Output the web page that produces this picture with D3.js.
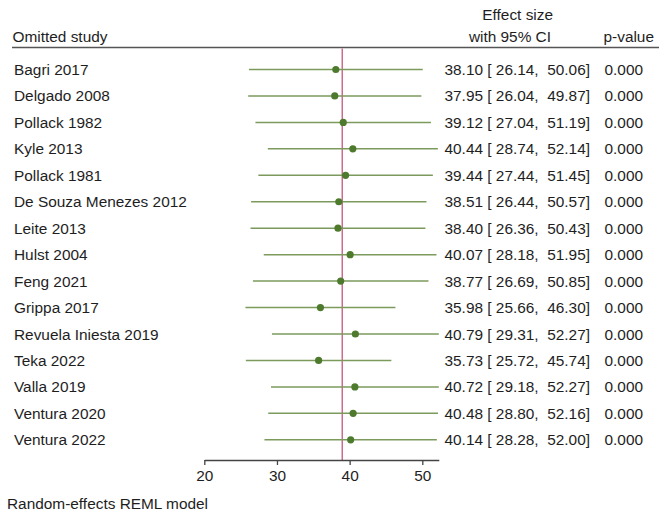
<!DOCTYPE html>
<html>
<head>
<meta charset="utf-8">
<script src="https://cdn.jsdelivr.net/npm/d3@7"></script>
<style>
  html, body { margin: 0; padding: 0; background: #fff; }
  svg { display: block; }
  text { font-family: "Liberation Sans", Arial, sans-serif; fill: #1e1e1e; }
</style>
</head>
<body>
<svg id="chart" width="669" height="516"></svg>
<script>
const studies = ["Bagri 2017", "Delgado 2008", "Pollack 1982", "Kyle 2013", "Pollack 1981",
  "De Souza Menezes 2012", "Leite 2013", "Hulst 2004", "Feng 2021", "Grippa 2017",
  "Revuela Iniesta 2019", "Teka 2022", "Valla 2019", "Ventura 2020", "Ventura 2022"];
const estimates = [38.10, 37.95, 39.12, 40.44, 39.44, 38.51, 38.40, 40.07, 38.77, 35.98, 40.79, 35.73, 40.72, 40.48, 40.14];
const lower = [26.14, 26.04, 27.04, 28.74, 27.44, 26.44, 26.36, 28.18, 26.69, 25.66, 29.31, 25.72, 29.18, 28.80, 28.28];
const upper = [50.06, 49.87, 51.19, 52.14, 51.45, 50.57, 50.43, 51.95, 50.85, 46.30, 52.27, 45.74, 52.27, 52.16, 52.00];
const pvalues = ["0.000", "0.000", "0.000", "0.000", "0.000", "0.000", "0.000", "0.000", "0.000", "0.000", "0.000", "0.000", "0.000", "0.000", "0.000"];
const overall = 38.98;
const tickValues = [20, 30, 40, 50];
const noteText = "Random-effects REML model";

const svg = d3.select("#chart");
const fs = 15.4;

const xMin = 20, xMax = d3.max(upper);
const pxPerUnit = 7.267;
const x = d3.scaleLinear().domain([xMin, xMax]).range([204.3, 204.3 + (xMax - xMin) * pxPerUnit]);
const y = d3.scaleLinear().domain([0, studies.length - 1]).range([69.5, 439.8]);

// Header
svg.append("text").attr("x", 12.5).attr("y", 41.5).attr("font-size", fs).text("Omitted study");
svg.append("text").attr("x", 553).attr("y", 20).attr("font-size", fs).attr("text-anchor", "end").text("Effect size");
svg.append("text").attr("x", 551).attr("y", 41.5).attr("font-size", fs).attr("text-anchor", "end").text("with 95% CI");
svg.append("text").attr("x", 654).attr("y", 41.5).attr("font-size", fs).attr("text-anchor", "end").text("p-value");
svg.append("line").attr("x1", 12).attr("x2", 659).attr("y1", 47.5).attr("y2", 47.5)
  .attr("stroke", "#555").attr("stroke-width", 1.6);

// Overall line
svg.append("line").attr("x1", x(overall)).attr("x2", x(overall))
  .attr("y1", 48.5).attr("y2", 460)
  .attr("stroke", "#c4587a").attr("stroke-width", 1.3);

const rows = svg.append("g").selectAll("g").data(studies).join("g");

rows.append("text").attr("x", 14).attr("y", (d, i) => y(i)).attr("dy", "0.36em")
  .attr("font-size", fs).text(d => d);

rows.append("line")
  .attr("x1", (d, i) => x(lower[i])).attr("x2", (d, i) => x(upper[i]))
  .attr("y1", (d, i) => y(i)).attr("y2", (d, i) => y(i))
  .attr("stroke", "#7b9a5c").attr("stroke-width", 1.5);

rows.append("circle")
  .attr("cx", (d, i) => x(estimates[i])).attr("cy", (d, i) => y(i)).attr("r", 3.6)
  .attr("fill", "#4e7a2e");

rows.append("text").attr("x", 444.5).attr("y", (d, i) => y(i)).attr("dy", "0.36em")
  .attr("font-size", fs).attr("xml:space", "preserve").style("white-space", "pre")
  .text((d, i) => `${estimates[i].toFixed(2)} [ ${lower[i].toFixed(2)},  ${upper[i].toFixed(2)}]`);

rows.append("text").attr("x", 643).attr("y", (d, i) => y(i)).attr("dy", "0.36em")
  .attr("font-size", fs).attr("text-anchor", "end").text((d, i) => pvalues[i]);

// Axis
const axis = d3.axisBottom(x).tickValues(tickValues).tickSizeInner(5).tickSizeOuter(0).tickPadding(5)
  .tickFormat(d3.format("d"));
const ag = svg.append("g").attr("transform", "translate(0,460)").call(axis);
ag.select(".domain").attr("stroke", "#444").attr("stroke-width", 1.3);
ag.selectAll(".tick line").attr("stroke", "#444").attr("stroke-width", 1.3);
ag.selectAll(".tick text").attr("font-size", fs).attr("font-family", "Liberation Sans, Arial, sans-serif").attr("fill", "#1e1e1e");

// Note
svg.append("text").attr("x", 7).attr("y", 503).attr("dy", "0.36em").attr("font-size", fs).text(noteText);
</script>
</body>
</html>
